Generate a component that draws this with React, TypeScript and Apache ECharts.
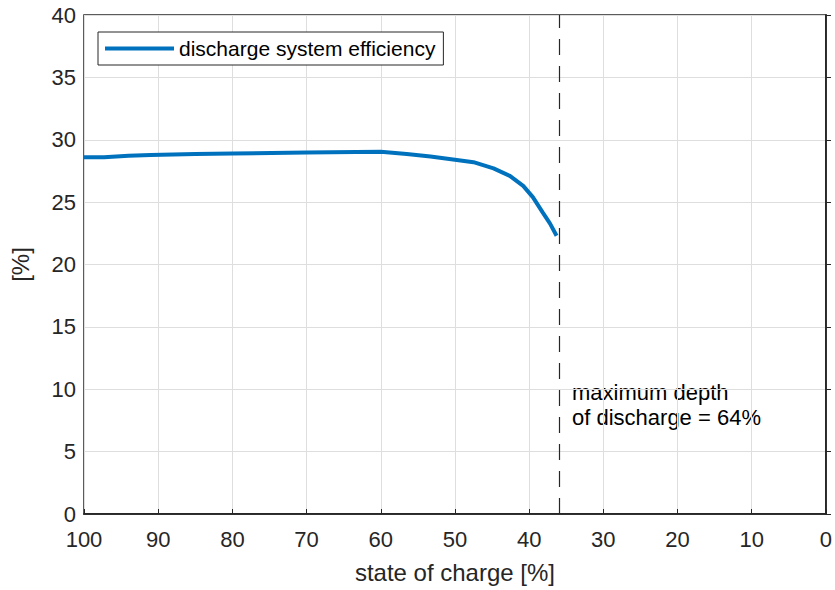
import React, { useEffect, useRef } from "react";
import * as echarts from "echarts";

// State of charge [%] and discharge system efficiency [%]
const socValues = [100, 97.3, 94, 91, 85, 80, 70, 60, 56.5, 53.3, 50, 47.5, 44.8, 42.6, 40.8, 39.5, 38.2, 37.2, 36.3];
const efficiencyValues = [28.6, 28.6, 28.72, 28.78, 28.85, 28.9, 28.97, 29.03, 28.85, 28.65, 28.4, 28.2, 27.7, 27.1, 26.3, 25.4, 24.2, 23.3, 22.3];
const maxDepthSoc = 36;
const xTicks = { min: 0, max: 100, interval: 10 };
const yTicks = { min: 0, max: 40, interval: 5 };

const seriesName = "discharge system efficiency";
const textColor = "#262626";
const font = "'Liberation Sans', Arial, sans-serif";

export default function App() {
  const ref = useRef<HTMLDivElement>(null);

  useEffect(() => {
    if (!ref.current) return;
    const chart = echarts.init(ref.current, null, { renderer: "svg" });
    const data = socValues.map((s, i) => [s, efficiencyValues[i]]);

    const tickIn = { show: true, inside: true, length: 5, lineStyle: { color: textColor, width: 1 } };
    const line = { show: true, lineStyle: { color: textColor, width: 1.5 } };

    chart.setOption({
      animation: false,
      backgroundColor: "#ffffff",
      textStyle: { fontFamily: font },
      grid: {
        left: 80,
        right: 6,
        top: 15,
        bottom: 76,
        containLabel: false,
        show: true,
        borderColor: textColor,
        borderWidth: 1.5,
      },
      legend: {
        show: true,
        left: 98,
        top: 32,
        orient: "horizontal",
        backgroundColor: "#ffffff",
        borderColor: textColor,
        borderWidth: 1,
        borderRadius: 0,
        padding: [6, 8, 6, 7],
        itemWidth: 69,
        itemHeight: 4,
        itemGap: 6,
        textStyle: { fontSize: 21, color: "#000000", fontFamily: font },
        data: [{ name: seriesName, icon: "rect", itemStyle: { color: "#0072BD" } }],
      },
      xAxis: [
        {
          type: "value",
          ...xTicks,
          inverse: true,
          position: "bottom",
          axisLine: line,
          axisTick: tickIn,
          name: "state of charge [%]",
          nameLocation: "middle",
          nameGap: 46,
          nameTextStyle: { fontSize: 24, color: textColor, fontFamily: font },
          axisLabel: { fontSize: 22, color: textColor, margin: 14, fontFamily: font },
          splitLine: { show: true, lineStyle: { color: "#dedede", width: 1 } },
        },
        {
          type: "value",
          ...xTicks,
          inverse: true,
          position: "top",
          axisLine: line,
          axisTick: { ...tickIn, inside: false },
          axisLabel: { show: false },
          splitLine: { show: false },
        },
      ],
      yAxis: [
        {
          type: "value",
          ...yTicks,
          position: "left",
          axisLine: line,
          axisTick: tickIn,
          name: "[%]",
          nameLocation: "middle",
          nameGap: 52,
          nameRotate: 90,
          nameTextStyle: { fontSize: 24, color: textColor, fontFamily: font },
          axisLabel: { fontSize: 22, color: textColor, margin: 8, fontFamily: font },
          splitLine: { show: true, lineStyle: { color: "#dedede", width: 1 } },
        },
        {
          type: "value",
          ...yTicks,
          position: "right",
          axisLine: line,
          axisTick: { ...tickIn, inside: false },
          axisLabel: { show: false },
          splitLine: { show: false },
        },
      ],
      series: [
        {
          name: seriesName,
          type: "line",
          data,
          symbol: "none",
          smooth: false,
          lineStyle: { color: "#0072BD", width: 4 },
          itemStyle: { color: "#0072BD" },
          z: 5,
          markLine: {
            silent: true,
            symbol: ["none", "none"],
            label: { show: false },
            lineStyle: { color: textColor, type: [16, 11], width: 1.2 },
            data: [{ xAxis: maxDepthSoc }],
          },
        },
      ],
      graphic: [
        {
          type: "text",
          left: 572,
          top: 380,
          style: {
            text: "maximum depth\nof discharge = 64%",
            fontSize: 22,
            lineHeight: 25,
            fill: "#000000",
            fontFamily: font,
          },
        },
      ],
    });

    return () => chart.dispose();
  }, []);

  return <div ref={ref} style={{ width: 835, height: 590, position: "absolute", left: 0, top: 0 }} />;
}
